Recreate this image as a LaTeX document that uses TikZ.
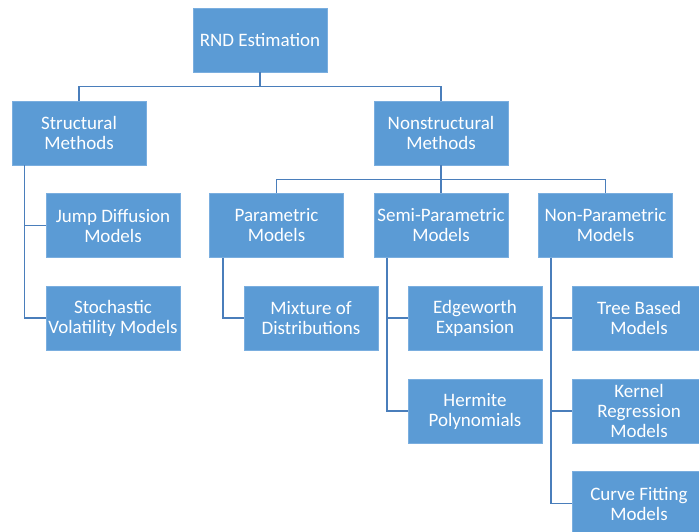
\documentclass[tikz,border=0pt]{standalone}
\usepackage{fontspec}
\setmainfont{Carlito}
\definecolor{boxblue}{HTML}{5B9BD5}
\definecolor{boxedge}{HTML}{7AAEDF}
\definecolor{linkblue}{HTML}{4A7EBB}
\begin{document}
\begin{tikzpicture}[x=1pt,y=-1pt,
  box/.style={rectangle, fill=boxblue, draw=boxedge, line width=0.6pt,
    minimum width=134pt, minimum height=64pt, inner sep=0pt,
    align=center, text=white, font=\fontsize{19}{20}\selectfont},
  link/.style={draw=linkblue, line width=1.4pt}]
\useasboundingbox (0,0) rectangle (699,531);
\begin{scope}
\clip (0,0) rectangle (699,531);
\node[box] (rnd) at (260,40) {RND Estimation};
\node[box] (str) at (79,133) {Structural\\Methods};
\node[box] (nst) at (441,133) {Nonstructural\\Methods};
\node[box] (jump) at (113,225.5) {Jump Diffusion\\Models};
\node[box] (stoch) at (113,318) {Stochastic\\Volatility Models};
\node[box] (par) at (276.5,225.5) {Parametric\\Models};
\node[box] (semi) at (441,225.5) {Semi-Parametric\\Models};
\node[box] (nonp) at (605.5,225.5) {Non-Parametric\\Models};
\node[box] (mix) at (311,318) {Mixture of\\Distributions};
\node[box] (edge) at (475,318) {Edgeworth\\Expansion};
\node[box] (herm) at (475,411) {Hermite\\Polynomials};
\node[box] (tree) at (639,318) {Tree Based\\Models};
\node[box] (kern) at (639,411) {Kernel\\Regression\\Models};
\node[box] (curve) at (639,503.5) {Curve Fitting\\Models};

\draw[link] (rnd.south) -- ++(0,14) -| (str.north);
\draw[link] (rnd.south) -- ++(0,14) -| (nst.north);
\draw[link] (nst.south) -- ++(0,14) -| (par.north);
\draw[link] (nst.south) -- (semi.north);
\draw[link] (nst.south) -- ++(0,14) -| (nonp.north);

\draw[link] ([xshift=-54.5pt]str.south) |- (jump.west);
\draw[link] ([xshift=-54.5pt]str.south) |- (stoch.west);
\draw[link] ([xshift=-53.5pt]par.south) |- (mix.west);
\draw[link] ([xshift=-54pt]semi.south) |- (edge.west);
\draw[link] ([xshift=-54pt]semi.south) |- (herm.west);
\draw[link] ([xshift=-54.5pt]nonp.south) |- (tree.west);
\draw[link] ([xshift=-54.5pt]nonp.south) |- (kern.west);
\draw[link] ([xshift=-54.5pt]nonp.south) |- (curve.west);
\end{scope}
\end{tikzpicture}
\end{document}
